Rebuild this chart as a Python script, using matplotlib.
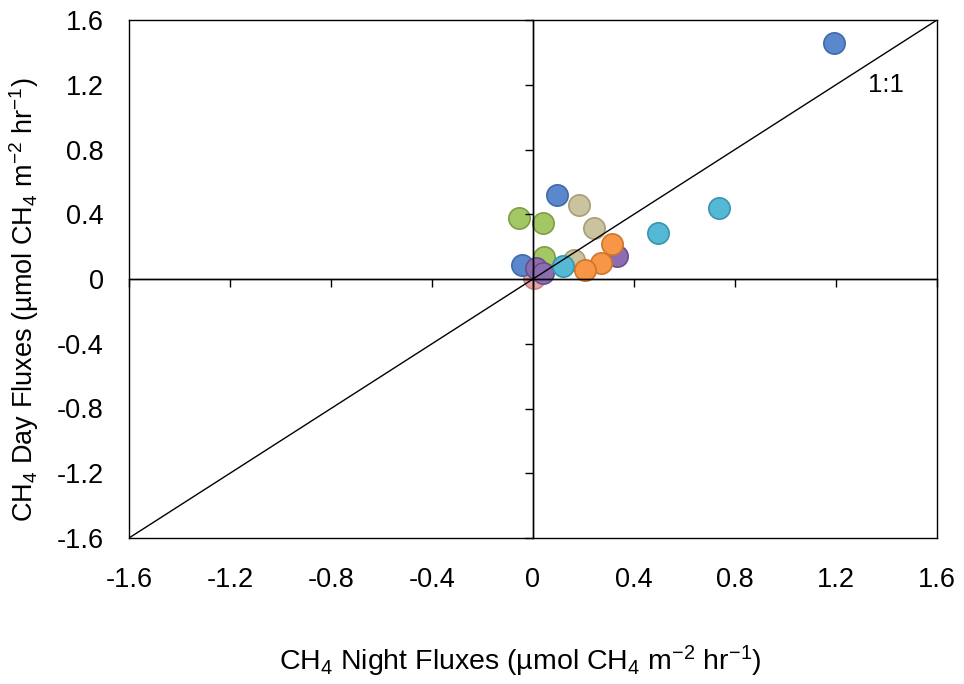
import matplotlib
matplotlib.use("Agg")
import matplotlib.pyplot as plt
import numpy as np

plt.rcParams['font.family'] = ['Liberation Sans', 'DejaVu Sans']
plt.rcParams['mathtext.fontset'] = 'custom'
plt.rcParams['mathtext.rm'] = 'Liberation Sans'
plt.rcParams['mathtext.it'] = 'Liberation Sans'
plt.rcParams['mathtext.default'] = 'regular'

# Data (night flux x, day flux y) grouped by series
series_names = ["pink", "blue", "green", "tan", "purple", "cyan", "orange"]
night = {
    "pink":   [0.005],
    "blue":   [0.097, -0.045, 1.193],
    "green":  [-0.057, 0.038, 0.045],
    "tan":    [0.183, 0.240, 0.164],
    "purple": [0.331, 0.012, 0.038],
    "cyan":   [0.120, 0.497, 0.738],
    "orange": [0.313, 0.269, 0.206],
}
day = {
    "pink":   [0.008],
    "blue":   [0.520, 0.088, 1.456],
    "green":  [0.375, 0.344, 0.136],
    "tan":    [0.457, 0.313, 0.120],
    "purple": [0.142, 0.070, 0.039],
    "cyan":   [0.080, 0.286, 0.437],
    "orange": [0.218, 0.100, 0.054],
}
face = {"pink": "#E8A3A2", "blue": "#5B88CC", "green": "#A3C763", "tan": "#CBC39E",
        "purple": "#8C6DB0", "cyan": "#55B8D4", "orange": "#F79646"}
edge = {"pink": "#C98584", "blue": "#3F6BA8", "green": "#7F9D45", "tan": "#A59E78",
        "purple": "#6A4E8C", "cyan": "#3895AE", "orange": "#D0762A"}

ticks = [-1.6, -1.2, -0.8, -0.4, 0, 0.4, 0.8, 1.2, 1.6]
tick_labels = ["-1.6", "-1.2", "-0.8", "-0.4", "0", "0.4", "0.8", "1.2", "1.6"]

fig = plt.figure(figsize=(9.64, 6.84), dpi=100)
ax = fig.add_axes([129/964, 1-538/684, (937-129)/964, (538-20)/684])
ax.set_xlim(-1.6, 1.6)
ax.set_ylim(-1.6, 1.6)

for s in series_names:
    ax.scatter(night[s], day[s], s=235, c=face[s], edgecolors=edge[s], linewidths=1.2, zorder=3)

ax.plot([-1.6, 1.6], [-1.6, 1.6], color='black', lw=1.0, zorder=4)
ax.axhline(0, color='black', lw=1.0, zorder=4)
ax.axvline(0, color='black', lw=1.0, zorder=4)
ax.text(1.325, 1.2, "1:1", fontsize=18.5, ha='left', va='center')

ax.set_xticks(ticks)
ax.set_xticklabels(tick_labels)
ax.set_yticks(ticks)
ax.set_yticklabels(tick_labels)
ax.tick_params(length=0, labelsize=19.5)
ax.tick_params(axis='x', pad=21)
ax.tick_params(axis='y', pad=18)
for sp in ax.spines.values():
    sp.set_linewidth(1.0)

# Overlay axes for tick marks on the zero lines
ax2 = fig.add_axes(ax.get_position(), frameon=True, facecolor='none')
ax2.set_xlim(-1.6, 1.6)
ax2.set_ylim(-1.6, 1.6)
ax2.spines['left'].set_position(('data', 0))
ax2.spines['bottom'].set_position(('data', 0))
for k in ['top', 'right']:
    ax2.spines[k].set_visible(False)
ax2.spines['left'].set_linewidth(1.0)
ax2.spines['bottom'].set_linewidth(1.0)
ax2.set_xticks(ticks)
ax2.set_yticks(ticks)
ax2.tick_params(direction='out', length=6, width=1.0, labelbottom=False, labelleft=False)

fig.text(520/964, 1-661/684, "CH$_4$ Night Fluxes (µmol CH$_4$ m$^{-2}$ hr$^{-1}$)",
         fontsize=20.5, ha='center', va='center')
fig.text(24/964, 1-300/684, "CH$_4$ Day Fluxes (µmol CH$_4$ m$^{-2}$ hr$^{-1}$)",
         fontsize=19.5, ha='center', va='center', rotation=90)

fig.savefig("out.png", dpi=100)
